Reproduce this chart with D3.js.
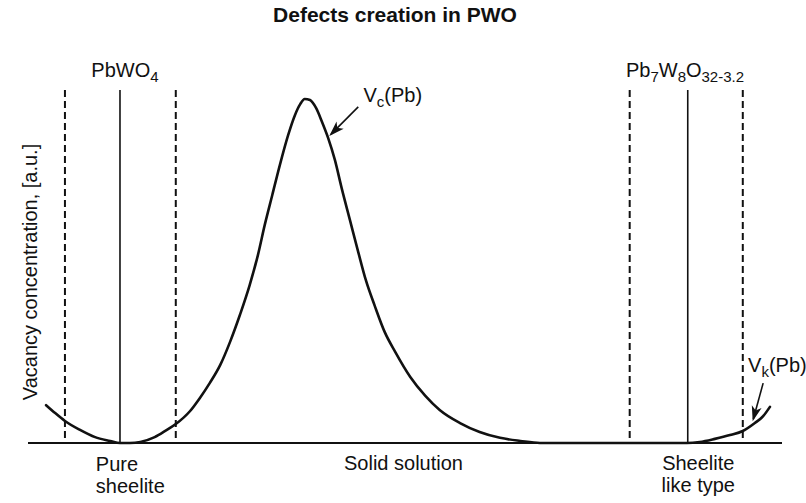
<!DOCTYPE html>
<html>
<head>
<meta charset="utf-8">
<script src="https://cdn.jsdelivr.net/npm/d3@7"></script>
<style>
  html, body { margin: 0; padding: 0; background: #fff; }
  svg { display: block; font-family: "Liberation Sans", Arial, Helvetica, sans-serif; }
</style>
</head>
<body>
<svg id="chart" width="806" height="503"></svg>
<script>
// Composition axis runs 0..100 (PbWO4 -> lead-deficient phase), concentration 0..100 (a.u.)
const compX = [2.4, 3.6, 4.9, 6.9, 8.9, 10.9, 12.2, 13.5, 14.9, 16.8, 18.2, 19.6, 21.5, 22.8, 24.1, 25.5,
  26.8, 28.1, 29.4, 30.5, 31.4, 32.4, 33.4, 34.5, 35.4, 36.1, 36.7, 37.4, 38.2, 39.0, 39.8, 40.7, 41.6,
  42.7, 43.8, 44.8, 46.0, 47.3, 48.7, 50.7, 52.7, 54.6, 57.3, 59.9, 62.6, 65.3, 67.9, 75.9, 87.4, 89.1,
  91.1, 93.1, 94.8, 96.4, 97.5, 98.4];
const vacancy = [11.0, 8.7, 6.4, 3.8, 1.7, 0.6, 0, 0, 0.3, 1.7, 3.5, 5.5, 9.3, 13.1, 17.4, 22.7,
  29.4, 37.2, 45.9, 54.7, 63.4, 72.1, 80.8, 89.5, 95.3, 98.5, 100, 99.7, 97.4, 93.3, 88.7, 82.3, 74.1,
  64.8, 55.5, 47.4, 39.8, 32.3, 26.5, 19.2, 13.7, 9.6, 5.8, 3.2, 1.5, 0.6, 0, 0, 0, 0.3,
  1.2, 2.3, 3.5, 5.8, 7.8, 10.5];

// Phase compositions (solid) and their stability limits (dashed)
const phaseCenters = [12.2, 87.5];
const phaseLimits = [4.9, 19.6, 79.8, 94.8];

// Arrow annotations: [tailX, tailY, tipX, tipY]
const arrowVc = [43.8, 97.7, 40.2, 89.8];
const arrowVk = [97.5, 17.4, 96.2, 7.0];

const svg = d3.select("#chart");
const W = 806, H = 503;
const base = 443, lineTop = 90;

const x = d3.scaleLinear().domain([0, 100]).range([28, 782]);
const y = d3.scaleLinear().domain([0, 100]).range([base, 99]);

// Title
svg.append("text")
  .attr("x", 395).attr("y", 22)
  .attr("text-anchor", "middle")
  .attr("font-weight", "bold")
  .attr("font-size", 21)
  .attr("fill", "#111")
  .text("Defects creation in PWO");

// Y axis label
svg.append("text")
  .attr("transform", "translate(37,272) rotate(-90)")
  .attr("text-anchor", "middle")
  .attr("font-size", 20)
  .attr("fill", "#111")
  .text("Vacancy concentration, [a.u.]");

// Baseline
svg.append("line")
  .attr("x1", x(0)).attr("x2", x(100))
  .attr("y1", y(0)).attr("y2", y(0))
  .attr("stroke", "#111").attr("stroke-width", 2);

// Phase limits (dashed)
svg.selectAll("line.limit").data(phaseLimits).enter().append("line")
  .attr("class", "limit")
  .attr("x1", d => x(d)).attr("x2", d => x(d))
  .attr("y1", lineTop).attr("y2", y(0))
  .attr("stroke", "#111").attr("stroke-width", 2)
  .attr("stroke-dasharray", "7,4");

// Phase compositions (solid)
svg.selectAll("line.center").data(phaseCenters).enter().append("line")
  .attr("class", "center")
  .attr("x1", d => x(d)).attr("x2", d => x(d))
  .attr("y1", lineTop).attr("y2", y(0))
  .attr("stroke", "#111").attr("stroke-width", 1.6);

// Vacancy concentration curve
const pts = compX.map((c, i) => [c, vacancy[i]]);
svg.append("path")
  .datum(pts)
  .attr("fill", "none")
  .attr("stroke", "#111")
  .attr("stroke-width", 2.6)
  .attr("stroke-linecap", "round")
  .attr("d", d3.line().x(d => x(d[0])).y(d => y(d[1])).curve(d3.curveMonotoneX));

// Arrows pointing at the curve
function arrow(a) {
  const x1 = x(a[0]), y1 = y(a[1]), x2 = x(a[2]), y2 = y(a[3]);
  const ang = Math.atan2(y2 - y1, x2 - x1);
  const g = svg.append("g").attr("stroke", "#111").attr("stroke-width", 1.6).attr("fill", "#111");
  g.append("line").attr("x1", x1).attr("y1", y1).attr("x2", x2).attr("y2", y2);
  const L = 11, s = 0.32;
  const p1 = [x2 - L * Math.cos(ang - s), y2 - L * Math.sin(ang - s)];
  const p2 = [x2 - L * Math.cos(ang + s), y2 - L * Math.sin(ang + s)];
  const pm = [x2 - L * 0.7 * Math.cos(ang), y2 - L * 0.7 * Math.sin(ang)];
  g.append("path").attr("stroke-linejoin", "miter")
    .attr("d", `M${x2},${y2}L${p1[0]},${p1[1]}L${pm[0]},${pm[1]}L${p2[0]},${p2[1]}Z`);
}
arrow(arrowVc);
arrow(arrowVk);

// Text with subscripts
function subText(px, py, parts, anchor) {
  const t = svg.append("text").attr("x", px).attr("y", py)
    .attr("font-size", 20).attr("fill", "#111")
    .attr("text-anchor", anchor || "start");
  let shift = 0;
  parts.forEach(p => {
    const sub = p[1];
    const dy = sub ? (shift === 0 ? 5 : 0) : (shift !== 0 ? -5 : 0);
    shift = sub ? 5 : 0;
    t.append("tspan").attr("dy", dy).attr("font-size", sub ? 15 : 20).text(p[0]);
  });
}

subText(x(8.4), 77, [["PbWO", false], ["4", true]]);
subText(x(79.3), 77, [["Pb", false], ["7", true], ["W", false], ["8", true], ["O", false], ["32-3.2", true]]);
subText(x(44.5), 102, [["V", false], ["c", true], ["(Pb)", false]]);
subText(x(95.5), 372, [["V", false], ["k", true], ["(Pb)", false]]);

// Region labels
function label(px, py, s, anchor) {
  svg.append("text").attr("x", px).attr("y", py)
    .attr("font-size", 20).attr("fill", "#111")
    .attr("text-anchor", anchor).text(s);
}
label(x(9.0), 471, "Pure", "start");
label(x(9.0), 493, "sheelite", "start");
label(x(49.8), 470, "Solid solution", "middle");
label(x(88.9), 470, "Sheelite", "middle");
label(x(88.9), 492, "like type", "middle");
</script>
</body>
</html>
